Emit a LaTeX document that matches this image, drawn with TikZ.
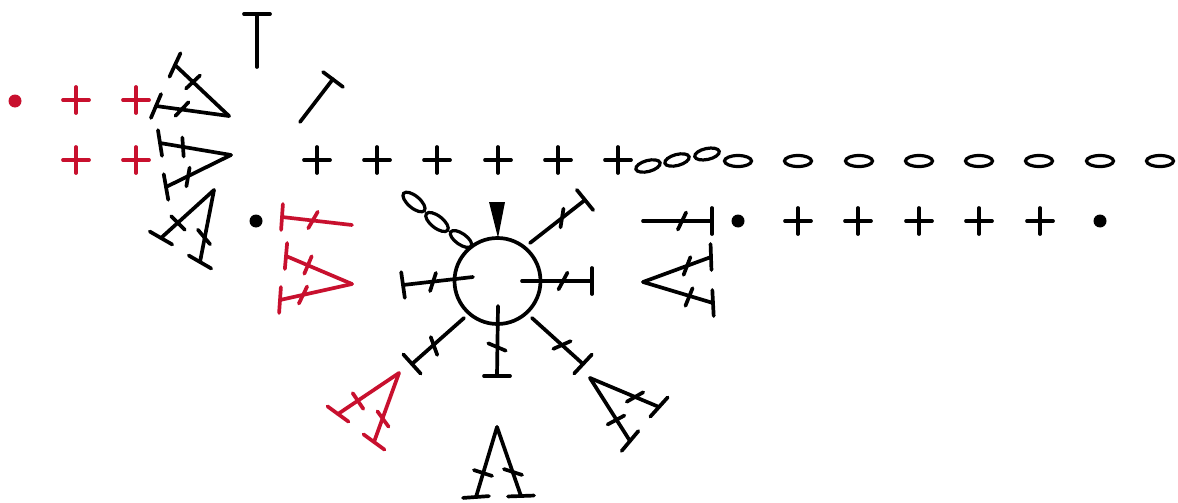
\documentclass[tikz,border=0pt]{standalone}
\usetikzlibrary{calc}
\definecolor{cred}{HTML}{C8102E}
\tikzset{
  ink/.style={line width=3.7pt,line cap=round,line join=round},
  chain/.style={line width=3.2pt},
}
% stitch: [colour], base, top, bar angle, tick centre, tick angle (angles on screen, clockwise)
\newcommand{\stitch}[6][black]{%
  \draw[ink,#1] (#2) -- (#3);
  \draw[ink,#1] ($(#3)+(-#4:13pt)$) -- ($(#3)+(-#4+180:13pt)$);
  \draw[ink,#1] ($(#5)+(-#6:9.5pt)$) -- ($(#5)+(-#6+180:9.5pt)$);
}
\newcommand{\plusmark}[2][black]{%
  \draw[ink,#1] ($(#2)+(-13pt,0)$) -- ($(#2)+(13pt,0)$);
  \draw[ink,#1] ($(#2)+(0,-13pt)$) -- ($(#2)+(0,13pt)$);
}
% link: centre, screen angle, x radius, y radius
\newcommand{\link}[4]{\draw[chain,rotate around={-#2:(#1)}] (#1) ellipse [x radius=#3pt,y radius=#4pt];}
\begin{document}
\begin{tikzpicture}[x=1pt,y=-1pt]
\useasboundingbox (0,0) rectangle (1178,503);
\fill[white] (0,0) rectangle (1178,503);
% red corner
\fill[cred] (15,101) circle (6.5pt);
\foreach \p in {76,136}{\plusmark[cred]{\p,100}\plusmark[cred]{\p,160}}
% turning stitches
\draw[ink] (257,67) -- (257,14);
\draw[ink] (244,14) -- (270,14);
\draw[ink] (300,122) -- (333,79);
\draw[ink] (323,72) -- (343,87);
% black V at left
\stitch{229,116}{175,65}{-65}{193,82}{-43}
\stitch{229,116}{156,106}{-67}{182,109}{-46}
\stitch{231,155}{160,143}{81}{183,147}{86}
\stitch{231,155}{166,187}{80}{188,177}{100}
\stitch{214,190}{161,238}{30}{178,223}{45}
\stitch{214,190}{200,262}{30}{204,237}{50}
\fill (256,221) circle (6.5pt);
% red stitches
\stitch[cred]{352,225}{282,217}{94}{313,220}{-60}
\stitch[cred]{352,284}{286,256}{95}{308,265}{-67}
\stitch[cred]{352,284}{280,300}{94}{303,295}{-64}
\stitch[cred]{399,373}{338,414}{36}{358,401}{56}
\stitch[cred]{399,373}{374,442}{36}{383,419}{54}
% ring
\draw[ink] (497.5,281) circle (43pt);
\fill (489,202) -- (505,202) -- (498,238) -- cycle;
\link{414,202}{40}{13.5}{6}
\link{437,222}{38}{13.5}{6}
\link{461,239}{35}{12.5}{5.5}
% spokes
\stitch{530,243}{585,200}{51}{562,218}{99}
\stitch{522,281}{592,281}{90}{563,281}{-62}
\stitch{473,277}{403,285}{82}{433,282}{-72}
\stitch{464,318}{412,364}{48}{434,346}{70}
\stitch{498,306}{497,376}{0}{497,347}{23}
\stitch{532,318}{583,364}{-47}{562,345}{-24}
% bottom and right clusters
\stitch{497,427}{476,497}{-4}{483,473}{18}
\stitch{497,427}{521,496}{-2}{513,472}{18}
\stitch{590,378}{659,407}{-48}{635,397}{-30}
\stitch{590,378}{630,441}{-50}{616,420}{-28}
\stitch{643,221}{712,221}{90}{682,221}{-64}
\stitch{643,282}{711,257}{88}{687,266}{-69}
\stitch{643,282}{713,303}{87}{689,297}{-68}
% top row
\foreach \p in {317,377,437,498,558,618}{\plusmark{\p,160}}
\link{648,166}{-15}{12.5}{5.5}
\link{677,160}{-15}{12.5}{5.5}
\link{707,154}{-12}{12.5}{5.5}
\foreach \p in {738,798,859,919,979,1039,1100,1160}{\link{\p,161}{0}{13.5}{5.5}}
% second row
\fill (738,221) circle (6.5pt);
\foreach \p in {798,858,919,979,1040}{\plusmark{\p,221}}
\fill (1100,221) circle (6.5pt);
\end{tikzpicture}
\end{document}
